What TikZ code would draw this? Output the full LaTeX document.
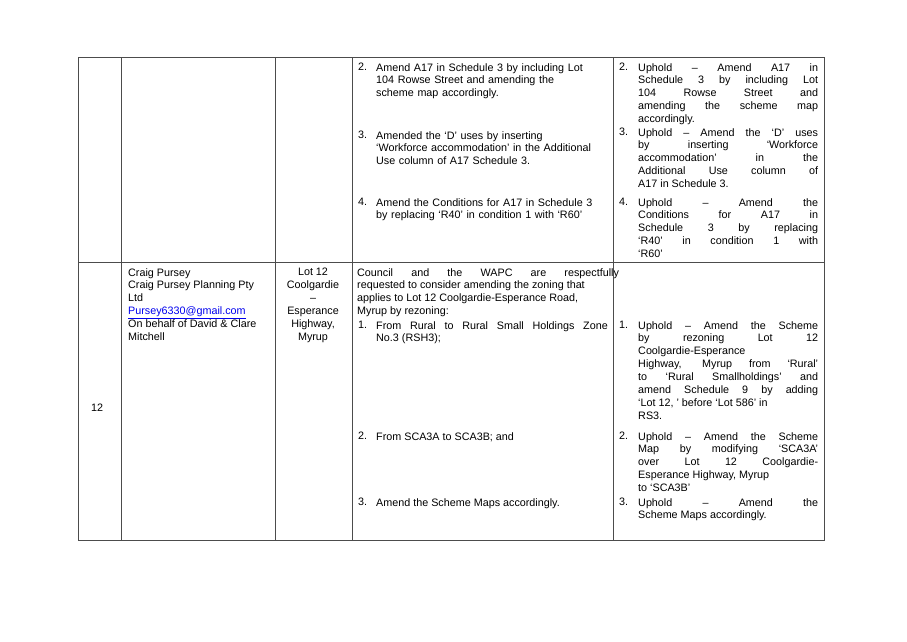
\documentclass[tikz,border=0pt]{standalone}
\usepackage{fontspec}
\setmainfont{Liberation Sans}
\usepackage{ragged2e}
\begin{document}
\begin{tikzpicture}[x=0.9283pt,y=-0.9283pt,
  txt/.style={anchor=north west,inner sep=0pt,font=\fontsize{10}{12}\selectfont,align=justify},
  rag/.style={anchor=north west,inner sep=0pt,font=\fontsize{10}{12}\selectfont,align=left},
  num/.style={anchor=north west,inner sep=0pt,font=\fontsize{10}{12}\selectfont},
  grid/.style={draw=black!70,line width=0.6pt}]
\useasboundingbox[fill=white] (0,0) rectangle (907,641);
\draw[grid] (78,57) rectangle (824,540);
\draw[grid] (78,262) -- (824,262);
\foreach \x in {121,275,352,613} \draw[grid] (\x,57) -- (\x,540);
% row 1 col 4
\node[num] (n42) at (358,63) {2.};
\node[rag,text width=215pt] (t42) at (376,63) {Amend A17 in Schedule 3 by including Lot\\104 Rowse Street and amending the\\scheme map accordingly.};
\node[num] (n43) at (358,131) {3.};
\node[rag,text width=215pt] (t43) at (376,131) {Amended the `D' uses by inserting\\`Workforce accommodation' in the Additional\\Use column of A17 Schedule 3.};
\node[num] (n44) at (358,198) {4.};
\node[rag,text width=215pt] (t44) at (376,198) {Amend the Conditions for A17 in Schedule 3\\by replacing `R40' in condition 1 with `R60'};
% row 1 col 5
\node[num] (m2) at (619,63) {2.};
\node[txt,text width=167pt] (u2) at (638,63) {Uphold -- Amend A17 in\linebreak Schedule 3 by including Lot\linebreak 104 Rowse Street and\linebreak amending the scheme map\linebreak accordingly.};
\node[num] (m3) at (619,128) {3.};
\node[txt,text width=167pt] (u3) at (638,128) {Uphold -- Amend the `D' uses\linebreak by inserting `Workforce\linebreak accommodation' in the\linebreak Additional Use column of\linebreak A17 in Schedule 3.};
\node[num] (m4) at (619,198) {4.};
\node[txt,text width=167pt] (u4) at (638,198) {Uphold -- Amend the\linebreak Conditions for A17 in\linebreak Schedule 3 by replacing\linebreak `R40' in condition 1 with\linebreak `R60'};
% row 2
\node[num] (id) at (91,404) {12};
\node[rag] (who) at (128,268) {Craig Pursey\\Craig Pursey Planning Pty\\Ltd\\{\color[HTML]{0000EE}\underline{Pursey6330@gmail.com}}\\On behalf of David \& Clare\\Mitchell};
\node[anchor=north,inner sep=0pt,font=\fontsize{10}{12}\selectfont,align=center] (lot) at (313,268) {Lot 12\\Coolgardie\\--\\Esperance\\Highway,\\Myrup};
\node[txt,text width=243pt] (req) at (357,268) {Council and the WAPC are respectfully\linebreak requested to consider amending the zoning that\\applies to Lot 12 Coolgardie-Esperance Road,\\Myrup by rezoning:};
\node[num] (r1) at (358,321) {1.};
\node[txt,text width=215pt] (s1) at (376,321) {From Rural to Rural Small Holdings Zone\linebreak No.3 (RSH3);};
\node[num] (r2) at (358,432) {2.};
\node[rag] (s2) at (376,432) {From SCA3A to SCA3B; and};
\node[num] (r3) at (358,498) {3.};
\node[rag] (s3) at (376,498) {Amend the Scheme Maps accordingly.};
\node[num] (k1) at (619,321) {1.};
\node[txt,text width=167pt] (v1) at (638,321) {Uphold -- Amend the Scheme\linebreak by rezoning Lot 12\linebreak Coolgardie-Esperance\\Highway, Myrup from `Rural'\linebreak to `Rural Smallholdings' and\linebreak amend Schedule 9 by adding\linebreak `Lot 12, ' before `Lot 586' in\\RS3.};
\node[num] (k2) at (619,432) {2.};
\node[txt,text width=167pt] (v2) at (638,432) {Uphold -- Amend the Scheme\linebreak Map by modifying `SCA3A'\linebreak over Lot 12 Coolgardie-\linebreak Esperance Highway, Myrup\\to `SCA3B'};
\node[num] (k3) at (619,498) {3.};
\node[txt,text width=167pt] (v3) at (638,498) {Uphold -- Amend the\linebreak Scheme Maps accordingly.};
\end{tikzpicture}
\end{document}
